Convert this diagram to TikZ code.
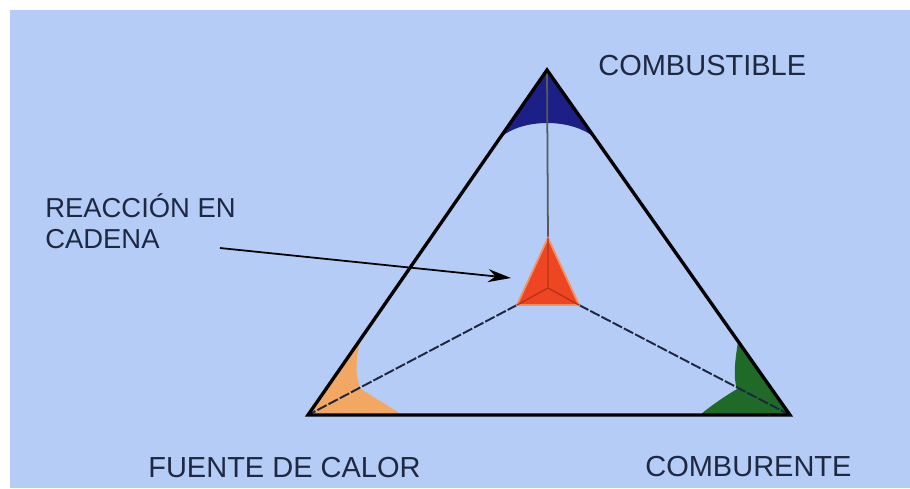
\documentclass[tikz,border=0pt]{standalone}
\usepackage{fontspec}
\setmainfont{Liberation Sans}
\usetikzlibrary{arrows.meta}
\definecolor{bgCol}{HTML}{B4CCF6}
\definecolor{txtCol}{HTML}{1F2842}
\definecolor{lineCol}{HTML}{1E2640}
\definecolor{fuelCol}{HTML}{1C1F86}
\definecolor{heatCol}{HTML}{F2A862}
\definecolor{oxyCol}{HTML}{1E6A26}
\definecolor{chainCol}{HTML}{EE4522}
\definecolor{chainLite}{HTML}{F7905A}
\definecolor{chainDark}{HTML}{B8341A}
\tikzset{
  lbl/.style={font=\fontsize{16.5}{18}\selectfont, text=txtCol, inner sep=0pt, align=left},
  lblsm/.style={font=\fontsize{15.6}{17.6}\selectfont, text=txtCol, inner sep=0pt, align=left},
  rim/.style={line width=1.9pt, line join=miter},
  stem/.style={line width=1pt, black!65},
  spoke/.style={line width=1.1pt, lineCol, dash pattern=on 6pt off 1.2pt},
  ptr/.style={-{Stealth[length=0.46cm,width=0.26cm]}, line width=1pt},
}
\begin{document}
\begin{tikzpicture}[x=0.02cm,y=-0.02cm]
  \useasboundingbox (0,0) rectangle (910,488);
  \fill[white] (0,0) rectangle (910,488);
  \fill[bgCol] (10,10) rectangle (910,488);
  % outer triangle
  \coordinate (fuel) at (547,70);
  \coordinate (heat) at (308,415);
  \coordinate (oxy) at (790,415);
  % chain reaction triangle
  \coordinate (cTop) at (548,238);
  \coordinate (cLeft) at (517,305);
  \coordinate (cRight) at (579,305);
  \coordinate (cMid) at (548,288);
  % corner fills
  \fill[fuelCol] (fuel) -- (500,138) .. controls (522,118) and (572,118) .. (595,138) -- cycle;
  \fill[heatCol] (heat) -- (361,338) .. controls (355,360) and (355,378) .. (361,389)
    .. controls (375,398) and (392,408) .. (402,415) -- cycle;
  \fill[oxyCol] (oxy) -- (738,342) .. controls (735,360) and (733,378) .. (737,389)
    .. controls (722,398) and (708,408) .. (700,415) -- cycle;
  % spokes
  \draw[stem] (fuel) -- (cTop);
  \draw[spoke] (cLeft) -- (heat);
  \draw[spoke] (cRight) -- (oxy);
  \draw[rim] (fuel) -- (heat) -- (oxy) -- cycle;
  % centre
  \filldraw[fill=chainCol, draw=chainLite, line width=1pt] (cTop) -- (cLeft) -- (cRight) -- cycle;
  \draw[chainDark, line width=0.8pt] (cMid) -- (cTop) (cMid) -- (cLeft) (cMid) -- (cRight);
  % labels
  \node[lbl, anchor=base west] (lblFuel) at (598,75) {COMBUSTIBLE};
  \node[lbl, anchor=base west] (lblHeat) at (148,477) {FUENTE DE CALOR};
  \node[lbl, anchor=base west] (lblOxy) at (645,476) {COMBURENTE};
  \node[lblsm, anchor=north west] (lblChain) at (45,193) {REACCIÓN EN\\CADENA};
  \coordinate (ptrStart) at (220,248);
  \coordinate (ptrEnd) at (511,278);
  \draw[ptr] (ptrStart) -- (ptrEnd);
\end{tikzpicture}
\end{document}
